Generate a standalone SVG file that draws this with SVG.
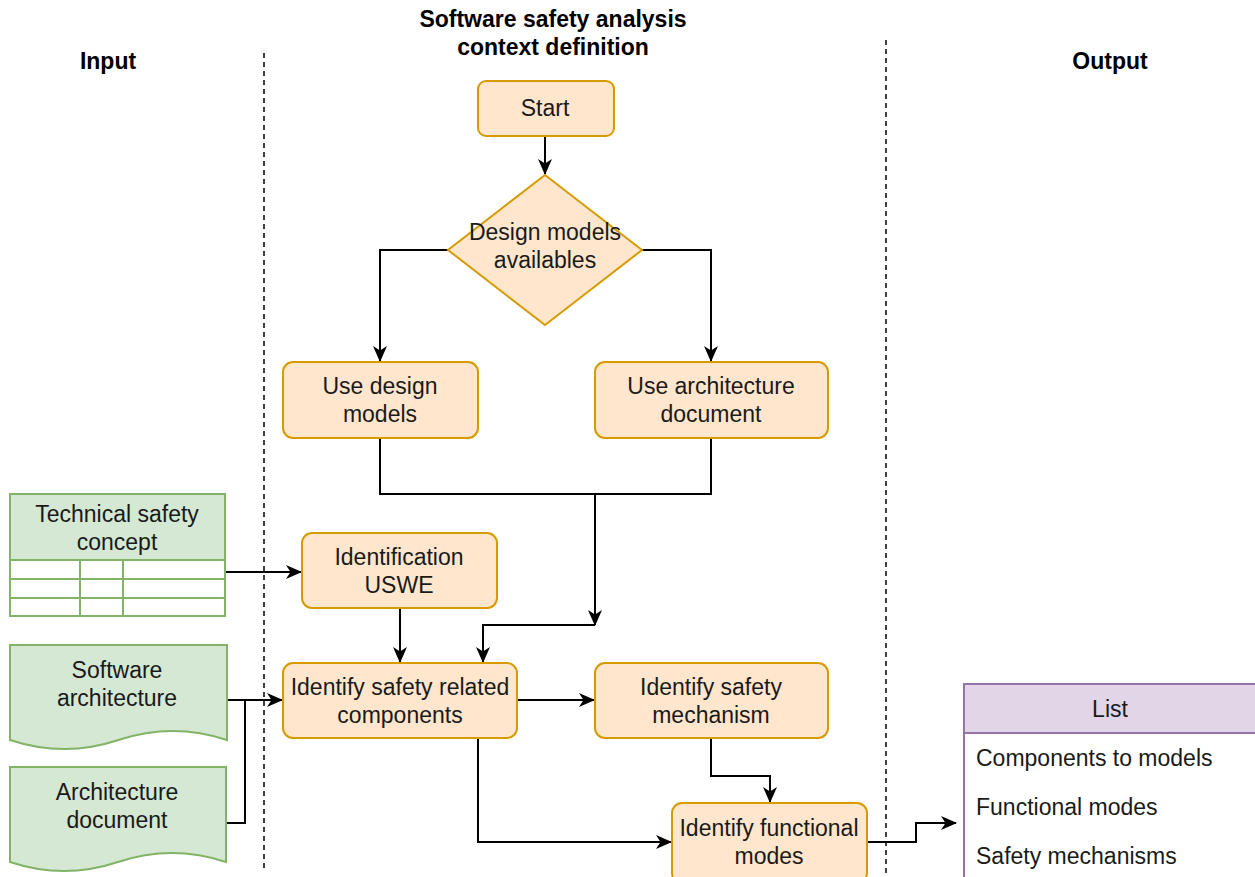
<svg xmlns="http://www.w3.org/2000/svg" width="1255" height="877" viewBox="0 0 1255 877">
<defs>
<style>
text{font-family:"Liberation Sans",Arial,sans-serif;font-size:23px;fill:#1a1a1a;dominant-baseline:central}
.c{text-anchor:middle}
.t{font-weight:bold;fill:#000}
.o{fill:#ffe6cc;stroke:#d79b00;stroke-width:2}
.g{fill:#d5e8d4;stroke:#82b366;stroke-width:2}
.gw{fill:#fff;stroke:#82b366;stroke-width:2}
.p{fill:#e1d5e7;stroke:#9673a6;stroke-width:2}
.pw{fill:#fff;stroke:#9673a6;stroke-width:2}
.e{fill:none;stroke:#000;stroke-width:2}
.ea{fill:none;stroke:#000;stroke-width:2;marker-end:url(#a)}
.d{fill:none;stroke:#000;stroke-width:1.5;stroke-dasharray:5,4}
</style>
<marker id="a" markerWidth="16" markerHeight="14" refX="15" refY="7" orient="auto" markerUnits="userSpaceOnUse">
<path d="M0,0 L16,7 L0,14 L4.5,7 Z" fill="#000"/>
</marker>
</defs>
<g id="titles">
<text class="c t" x="108" y="61">Input</text>
<text class="c t" x="553" y="19">Software safety analysis</text>
<text class="c t" x="553" y="47">context definition</text>
<text class="c t" x="1110" y="61">Output</text>
</g>
<g id="lanes">
<line class="d" x1="264" y1="53" x2="264" y2="870"/>
<line class="d" x1="886" y1="40" x2="886" y2="877"/>
</g>
<g id="connectors">
<path class="ea" d="M545,137 V174"/>
<path class="ea" d="M448,250 H380 V361"/>
<path class="ea" d="M642,250 H711 V361"/>
<path class="e" d="M380,438 V494 H711 V438"/>
<path class="ea" d="M595,494 V625"/>
<path class="ea" d="M595,625 H483 V662"/>
<path class="ea" d="M400,608 V662"/>
<path class="ea" d="M225,572 H301"/>
<path class="ea" d="M227,700 H282"/>
<path class="e" d="M226,823 H245 V700"/>
<path class="ea" d="M517,700 H594"/>
<path class="ea" d="M711,738 V776 H770 V802"/>
<path class="ea" d="M478,738 V842 H671"/>
<path class="ea" d="M867,842 H916 V823 H956"/>
</g>
<g id="start">
<rect class="o" x="478" y="81" width="136" height="55" rx="8"/>
<text class="c" x="545" y="108">Start</text>
</g>
<g id="decision">
<path class="o" d="M545,175 L642,250 L545,325 L448,250 Z"/>
<text class="c" x="545" y="232">Design models</text>
<text class="c" x="545" y="260">availables</text>
</g>
<g id="use-design-models">
<rect class="o" x="283" y="362" width="195" height="76" rx="10"/>
<text class="c" x="380" y="386">Use design</text>
<text class="c" x="380" y="414">models</text>
</g>
<g id="use-architecture-document">
<rect class="o" x="595" y="362" width="233" height="76" rx="10"/>
<text class="c" x="711" y="386">Use architecture</text>
<text class="c" x="711" y="414">document</text>
</g>
<g id="identification-uswe">
<rect class="o" x="302" y="533" width="195" height="75" rx="10"/>
<text class="c" x="399" y="557">Identification</text>
<text class="c" x="399" y="585">USWE</text>
</g>
<g id="identify-safety-related-components">
<rect class="o" x="283" y="663" width="234" height="75" rx="10"/>
<text class="c" x="400" y="687">Identify safety related</text>
<text class="c" x="400" y="715">components</text>
</g>
<g id="identify-safety-mechanism">
<rect class="o" x="595" y="663" width="233" height="75" rx="10"/>
<text class="c" x="711" y="687">Identify safety</text>
<text class="c" x="711" y="715">mechanism</text>
</g>
<g id="identify-functional-modes">
<rect class="o" x="672" y="803" width="195" height="80" rx="10"/>
<text class="c" x="769" y="828">Identify functional</text>
<text class="c" x="769" y="856">modes</text>
</g>
<g id="technical-safety-concept">
<rect class="g" x="10" y="494" width="215" height="66"/>
<rect class="gw" x="10" y="560" width="215" height="56"/>
<path class="gw" d="M10,579 H225 M10,598 H225 M80,560 V616 M123,560 V616"/>
<text class="c" x="117" y="514">Technical safety</text>
<text class="c" x="117" y="542">concept</text>
</g>
<g id="software-architecture">
<path class="g" d="M10,645 H227 V740 Q172.75,722 118.5,740 Q64.25,758 10,740 Z"/>
<text class="c" x="117" y="670">Software</text>
<text class="c" x="117" y="698">architecture</text>
</g>
<g id="architecture-document">
<path class="g" d="M10,767 H226 V862 Q172,844 118,862 Q64,880 10,862 Z"/>
<text class="c" x="117" y="792">Architecture</text>
<text class="c" x="117" y="820">document</text>
</g>
<g id="list">
<rect class="pw" x="964" y="733" width="300" height="160"/>
<rect class="p" x="964" y="684" width="300" height="49"/>
<text class="c" x="1110" y="709">List</text>
<text x="976" y="758">Components to models</text>
<text x="976" y="807">Functional modes</text>
<text x="976" y="856">Safety mechanisms</text>
</g>
</svg>
